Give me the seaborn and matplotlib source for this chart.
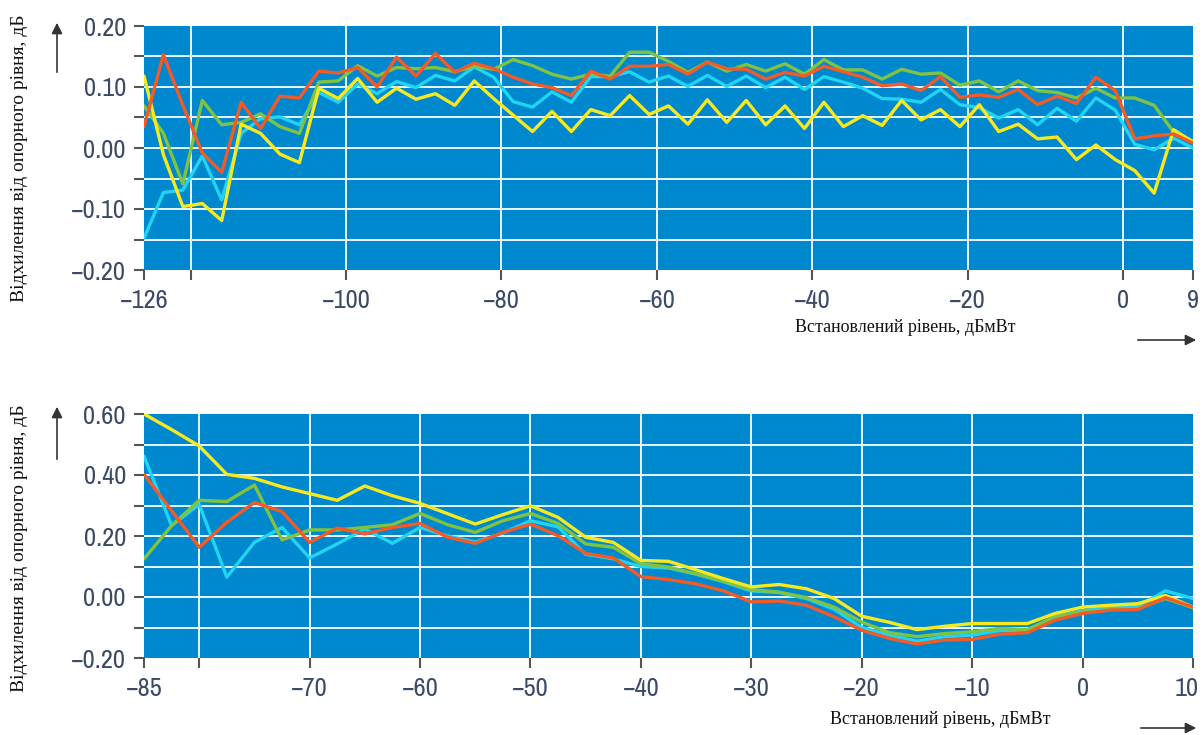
import numpy as np
import pandas as pd
import seaborn as sns
import matplotlib.pyplot as plt
import matplotlib.transforms as mtransforms
from matplotlib import font_manager
from matplotlib.patches import FancyArrowPatch

# верхній графік: -126 ... 9 дБмВт, крок 2.5
top_x = [-126, -123.5, -121, -118.5, -116, -113.5, -111, -108.5, -106, -103.5,
         -101, -98.5, -96, -93.5, -91, -88.5, -86, -83.5, -81, -78.5,
         -76, -73.5, -71, -68.5, -66, -63.5, -61, -58.5, -56, -53.5,
         -51, -48.5, -46, -43.5, -41, -38.5, -36, -33.5, -31, -28.5,
         -26, -23.5, -21, -18.5, -16, -13.5, -11, -8.5, -6, -3.5,
         -1, 1.5, 4, 6.5, 9]
top_red = [0.035, 0.153, 0.07, -0.008, -0.040, 0.075, 0.032, 0.085, 0.082, 0.126,
           0.123, 0.132, 0.100, 0.149, 0.118, 0.155, 0.124, 0.139, 0.130, 0.116,
           0.105, 0.099, 0.086, 0.126, 0.113, 0.134, 0.134, 0.137, 0.121, 0.141,
           0.130, 0.129, 0.113, 0.124, 0.118, 0.134, 0.125, 0.116, 0.102, 0.105,
           0.094, 0.117, 0.083, 0.087, 0.083, 0.096, 0.071, 0.085, 0.073, 0.116,
           0.094, 0.015, 0.020, 0.023, 0.008]
top_green = [0.069, 0.024, -0.059, 0.078, 0.038, 0.042, 0.056, 0.035, 0.024, 0.108,
             0.110, 0.135, 0.118, 0.132, 0.130, 0.132, 0.125, 0.134, 0.129, 0.145,
             0.135, 0.121, 0.113, 0.121, 0.118, 0.157, 0.157, 0.142, 0.124, 0.141,
             0.126, 0.137, 0.126, 0.138, 0.121, 0.145, 0.128, 0.128, 0.113, 0.129,
             0.121, 0.123, 0.103, 0.110, 0.092, 0.110, 0.094, 0.091, 0.082, 0.098,
             0.082, 0.082, 0.070, 0.026, 0.011]
top_cyan = [-0.148, -0.073, -0.069, -0.013, -0.085, 0.024, 0.048, 0.051, 0.038, 0.091,
            0.075, 0.105, 0.089, 0.109, 0.099, 0.119, 0.110, 0.133, 0.116, 0.076,
            0.067, 0.092, 0.075, 0.117, 0.117, 0.125, 0.108, 0.118, 0.101, 0.119,
            0.101, 0.118, 0.099, 0.116, 0.096, 0.117, 0.108, 0.098, 0.081, 0.080,
            0.075, 0.096, 0.071, 0.066, 0.049, 0.063, 0.038, 0.065, 0.044, 0.082,
            0.062, 0.006, -0.003, 0.016, 0.000]
top_yellow = [0.118, -0.011, -0.096, -0.091, -0.119, 0.039, 0.024, -0.010, -0.024, 0.098,
              0.081, 0.114, 0.075, 0.098, 0.080, 0.089, 0.070, 0.110, 0.081, 0.054,
              0.027, 0.060, 0.027, 0.063, 0.053, 0.086, 0.055, 0.069, 0.039, 0.079,
              0.042, 0.078, 0.038, 0.069, 0.032, 0.075, 0.035, 0.053, 0.037, 0.078,
              0.046, 0.063, 0.035, 0.071, 0.027, 0.039, 0.015, 0.018, -0.019, 0.005,
              -0.019, -0.037, -0.074, 0.030, 0.010]

# нижній графік: -85 ... 10 дБмВт
bot_x = [-85, -82.5, -80, -77.5, -75, -72.5, -70, -67.5, -65, -62.5,
         -60, -57.5, -55, -52.5, -50, -47.5, -45, -42.5, -40, -37.5,
         -35, -32.5, -30, -27.5, -25, -22.5, -20, -17.5, -15, -12.5,
         -10, -7.5, -5, -2.5, 0, 2.5, 5, 7.5, 10]
bot_yellow = [0.600, 0.549, 0.495, 0.402, 0.389, 0.361, 0.339, 0.317, 0.364, 0.332,
              0.307, 0.273, 0.239, 0.270, 0.299, 0.261, 0.196, 0.179, 0.120, 0.117,
              0.089, 0.060, 0.033, 0.041, 0.027, -0.005, -0.063, -0.083, -0.107, -0.096,
              -0.087, -0.087, -0.087, -0.054, -0.033, -0.027, -0.022, 0.005, -0.033]
bot_green = [0.125, 0.234, 0.317, 0.313, 0.367, 0.187, 0.220, 0.220, 0.228, 0.237,
             0.274, 0.237, 0.212, 0.250, 0.274, 0.241, 0.174, 0.163, 0.109, 0.098,
             0.076, 0.052, 0.024, 0.016, -0.002, -0.033, -0.082, -0.117, -0.130, -0.120,
             -0.114, -0.103, -0.107, -0.065, -0.049, -0.041, -0.038, -0.005, -0.035]
bot_red = [0.402, 0.283, 0.163, 0.245, 0.310, 0.280, 0.179, 0.226, 0.207, 0.228,
           0.241, 0.196, 0.176, 0.212, 0.239, 0.201, 0.143, 0.128, 0.067, 0.057,
           0.043, 0.020, -0.016, -0.013, -0.027, -0.065, -0.109, -0.136, -0.154, -0.141,
           -0.139, -0.122, -0.117, -0.076, -0.054, -0.043, -0.041, -0.002, -0.033]
bot_cyan = [0.462, 0.234, 0.304, 0.065, 0.179, 0.228, 0.128, 0.174, 0.223, 0.176,
            0.228, 0.200, 0.180, 0.210, 0.250, 0.230, 0.140, 0.125, 0.100, 0.095,
            0.075, 0.050, 0.020, 0.015, -0.005, -0.040, -0.100, -0.125, -0.145, -0.130,
            -0.125, -0.110, -0.110, -0.065, -0.045, -0.035, -0.030, 0.020, -0.005]

top_yticks = [-0.15, -0.10, -0.05, 0.00, 0.05, 0.10, 0.15]
top_yedges = [-0.20, 0.20]
top_xgrid = [-120, -100, -80, -60, -40, -20, 0]
top_xedges = [-126, 9]
bot_yticks = [-0.1, 0.0, 0.1, 0.2, 0.3, 0.4, 0.5]
bot_yedges = [-0.20, 0.60]
bot_xgrid = [-80, -70, -60, -50, -40, -30, -20, -10, 0]
bot_xedges = [-85, 10]

xlabel = "Встановлений рівень, дБмВт"
ylabel = "Відхилення від опорного рівня, дБ"

sns.set_theme(style="white")
plt.rcParams['font.family'] = ['DejaVu Sans']


# вузький шрифт для підписів шкал (як у оригіналі), якщо знайдеться
def narrow_font():
    cands = []
    for f in font_manager.fontManager.ttflist:
        fn = f.fname.lower()
        if 'bold' in fn or 'italic' in fn or 'oblique' in fn or 'light' in fn:
            continue
        if f.style != 'normal':
            continue
        nm = f.name.lower()
        score = None
        if 'narrow' in fn or 'narrow' in nm:
            score = 0
        elif 'condensed' in fn and 'semi' not in fn and 'extra' not in fn:
            score = 1
        elif f.stretch in ('condensed',) or 'semicondensed' in fn:
            score = 2
        if score is not None:
            if 'serif' in nm and 'sans' not in nm:
                score += 5
            if 'mono' in nm:
                score += 10
            cands.append((score, f.fname))
    if cands:
        cands.sort()
        return font_manager.FontProperties(fname=cands[0][1])
    return font_manager.FontProperties(family='Liberation Sans')


tick_font = narrow_font()
tick_font.set_size(19)

palette = {'cyan': '#22d4f4', 'green': '#80c342', 'yellow': '#f8e81e', 'red': '#f25a28'}
order = ['cyan', 'green', 'yellow', 'red']
bg = '#0088cf'
tick_col = '#3b4a66'


def to_long(x, series):
    frames = [pd.DataFrame({'x': x, 'y': v, 's': k}) for k, v in series.items()]
    return pd.concat(frames, ignore_index=True)


def lab(v, digits=2):
    return f"{v:.{digits}f}".replace('-', '\u2212')


def style_axes(ax, xlim, ylim, xgrid, xedges, yticks, yedges, ylabeled, xlabeled):
    ax.set_facecolor(bg)
    ax.set_xlim(*xlim)
    ax.set_ylim(*ylim)
    ax.set_xlabel('')
    ax.set_ylabel('')
    for sp in ax.spines.values():
        sp.set_visible(False)
    ax.set_xticks(xgrid)
    ax.set_xticklabels([lab(v, 0) if v in xlabeled else '' for v in xgrid])
    ax.set_xticks(xedges, minor=True)
    ax.set_xticklabels([lab(v, 0) for v in xedges], minor=True)
    ax.set_yticks(yticks)
    ax.set_yticklabels([lab(v) if round(v * 100) in ylabeled else '' for v in yticks])
    ax.set_yticks(yedges, minor=True)
    ax.set_yticklabels([lab(v) for v in yedges], minor=True)
    ax.grid(True, which='major', color='#eaf6fd', linewidth=1.4)
    ax.grid(False, which='minor')
    ax.tick_params(which='both', direction='out', length=7, width=1.5, color='#555555',
                   labelcolor=tick_col, left=True, bottom=True)
    ax.tick_params(axis='x', which='both', pad=7)
    ax.tick_params(axis='y', which='both', pad=6)
    for t in ax.get_xticklabels(which='both') + ax.get_yticklabels(which='both'):
        t.set_fontproperties(tick_font)
    ax.set_axisbelow(True)


fig = plt.figure(figsize=(12.03, 7.35), dpi=100)
ax1 = fig.add_axes([144 / 1203, 1 - 270 / 735, 1049 / 1203, 244 / 735])
ax2 = fig.add_axes([144 / 1203, 1 - 658 / 735, 1049 / 1203, 244 / 735])

df_top = to_long(top_x, {'cyan': top_cyan, 'green': top_green, 'yellow': top_yellow, 'red': top_red})
df_bot = to_long(bot_x, {'cyan': bot_cyan, 'green': bot_green, 'yellow': bot_yellow, 'red': bot_red})

sns.lineplot(data=df_top, x='x', y='y', hue='s', hue_order=order, palette=palette,
             linewidth=2.4, legend=False, estimator=None, sort=False, ax=ax1)
sns.lineplot(data=df_bot, x='x', y='y', hue='s', hue_order=order, palette=palette,
             linewidth=2.4, legend=False, estimator=None, sort=False, ax=ax2)

style_axes(ax1, (-126, 9), (-0.2, 0.2), top_xgrid, top_xedges, top_yticks, top_yedges,
           ylabeled={-10, 0, 10}, xlabeled={-100, -80, -60, -40, -20, 0})
style_axes(ax2, (-85, 10), (-0.2, 0.6), bot_xgrid, bot_xedges, bot_yticks, bot_yedges,
           ylabeled={0, 20, 40}, xlabeled={-70, -60, -50, -40, -30, -20, -10, 0})

# останній підпис "10" трохи лівіше, щоб не виходив за край
shift = mtransforms.ScaledTranslation(-6 / 100, 0, fig.dpi_scale_trans)
last = ax2.get_xticklabels(minor=True)[-1]
last.set_transform(last.get_transform() + shift)

# підписи осей і стрілки
W, H = 1203, 735
for yc in (158, 548):
    fig.text(20 / W, 1 - yc / H, ylabel, rotation=90, ha='center', va='center',
             fontsize=14, family='Liberation Serif', color='#111111')
fig.text(905 / W, 1 - 327 / H, xlabel, ha='center', va='center',
         fontsize=13, family='Liberation Serif', color='#111111')
fig.text(940 / W, 1 - 719 / H, xlabel, ha='center', va='center',
         fontsize=13, family='Liberation Serif', color='#111111')

arrows = [((57, 75), (57, 20)), ((57, 462), (57, 404)),
          ((1135, 340), (1199, 340)), ((1138, 728), (1199, 728))]
for (x0, y0), (x1, y1) in arrows:
    fig.add_artist(FancyArrowPatch(
        (x0 / W, 1 - y0 / H), (x1 / W, 1 - y1 / H), transform=fig.transFigure,
        arrowstyle='-|>', mutation_scale=16, color='#333333', linewidth=1.2))

fig.savefig('out.png', dpi=100, facecolor='white')
